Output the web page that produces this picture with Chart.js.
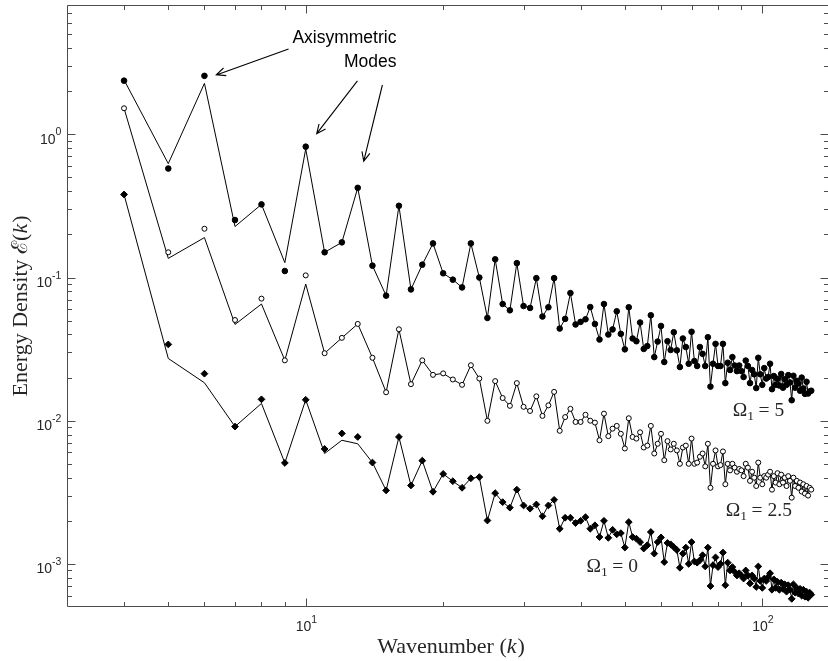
<!DOCTYPE html>
<html><head><meta charset="utf-8">
<script src="https://cdn.jsdelivr.net/npm/chart.js@4.4.0/dist/chart.umd.min.js"></script>
<style>html,body{margin:0;padding:0;background:#fff;overflow:hidden}#wrap{width:828px;height:661px;overflow:hidden;position:relative;background:#fff}canvas{display:block}</style>
</head><body><div id="wrap"><canvas id="c" width="834" height="661"></canvas></div>
<script>
// ---------------- data ----------------
const wavenumbers = [4,5,6,7,8,9,10,11,12,13,14,15,16,17,18,19,20,21,22,23,24,25,26,27,28,29,30,31,32,33,34,35,36,37,38,39,40,41,42,43,44,45,46,47,48,49,50,51,52,53,54,55,56,57,58,59,60,61,62,63,64,65,66,67,68,69,70,71,72,73,74,75,76,77,78,79,80,81,82,83,84,85,86,87,88,89,90,91,92,93,94,95,96,97,98,99,100,101,102,103,104,105,106,107,108,109,110,111,112,113,114,115,116,117,118,119,120,121,122,123,124,125,126,127,128];

// Omega_1 = 5 (line values, k = 4..128)
const omega5Line = [2.4,0.624,2.27,0.227,0.324,0.127,0.79,0.150,0.176,0.423,0.121,0.0747,0.317,0.0826,0.123,0.173,0.107,0.0966,0.0853,0.173,0.100,0.0522,0.134,0.0653,0.059,0.126,0.0632,0.0613,0.099,0.0534,0.062,0.099,0.044,0.0514,0.0779,0.047,0.049,0.0511,0.0622,0.0474,0.0369,0.0653,0.040,0.0434,0.0581,0.0404,0.0315,0.062,0.0375,0.0359,0.0485,0.0317,0.0332,0.0545,0.0278,0.0357,0.0459,0.0257,0.0359,0.0312,0.0415,0.0310,0.0237,0.0375,0.0327,0.025,0.0418,0.0261,0.0241,0.0327,0.0293,0.0241,0.0383,0.0173,0.025,0.0344,0.0241,0.0241,0.0344,0.0183,0.0254,0.0226,0.0278,0.0243,0.0222,0.0243,0.0222,0.0202,0.0263,0.0241,0.0183,0.0226,0.0211,0.0169,0.0275,0.0211,0.0178,0.0233,0.0197,0.0202,0.025,0.0166,0.0205,0.0178,0.0196,0.0176,0.0212,0.0170,0.0195,0.0178,0.0208,0.0185,0.0139,0.0206,0.0170,0.0190,0.0182,0.0162,0.0200,0.0168,0.0154,0.0187,0.0155,0.0160,0.0162];
// marker values that sit off the line at low k (k = 4..16)
const omega5MarkerLowK = [2.37,0.577,2.56,0.252,0.324,0.111,0.82,0.150,0.176,0.423,0.121,0.0747,0.317];

// Omega_1 = 2.5
const omega25Line = [1.52,0.136,0.190,0.047,0.0653,0.0264,0.090,0.0296,0.0379,0.0474,0.0275,0.0158,0.0435,0.018,0.0264,0.0209,0.0214,0.0194,0.0178,0.0244,0.0197,0.00998,0.0189,0.0144,0.0127,0.0183,0.0125,0.0117,0.0148,0.0108,0.0128,0.0159,0.0085,0.0106,0.0121,0.0098,0.0098,0.011,0.010,0.0097,0.0073,0.0112,0.0078,0.0088,0.0092,0.0081,0.0064,0.0104,0.0077,0.0075,0.0083,0.0065,0.0067,0.0092,0.0059,0.0069,0.0081,0.0053,0.0072,0.0063,0.0069,0.0062,0.0050,0.0065,0.0067,0.0050,0.0075,0.0050,0.0051,0.0056,0.0059,0.0048,0.0069,0.0034,0.0050,0.0062,0.0048,0.0049,0.0061,0.0036,0.0050,0.0045,0.0050,0.0047,0.0044,0.0046,0.0045,0.0041,0.0050,0.0047,0.0038,0.0044,0.0040,0.0035,0.0051,0.0040,0.0036,0.0041,0.0040,0.0042,0.0044,0.0033,0.0041,0.0037,0.0043,0.0036,0.0042,0.0037,0.0040,0.0035,0.0041,0.0038,0.0029,0.0040,0.0035,0.0038,0.0034,0.0037,0.0032,0.0036,0.0031,0.0035,0.0030,0.0034,0.0033];
const omega25MarkerLowK = [1.52,0.150,0.219,0.0505,0.0712,0.0264,0.1035,0.0296,0.0379,0.0474,0.0275,0.0158,0.0435];

// Omega_1 = 0
const omega0Line = [0.380,0.0272,0.0184,0.0091,0.0132,0.00507,0.0140,0.0059,0.0073,0.0069,0.0051,0.00326,0.0077,0.00353,0.00526,0.00319,0.00425,0.00378,0.0034,0.00396,0.00404,0.00201,0.00312,0.0027,0.00247,0.0033,0.00256,0.00243,0.0026,0.00215,0.00256,0.0028,0.00176,0.0021,0.0021,0.00193,0.0020,0.00212,0.00176,0.00186,0.00154,0.0020,0.00152,0.00173,0.00161,0.00164,0.0013,0.00196,0.00154,0.0015,0.00142,0.00128,0.00135,0.00167,0.00118,0.00142,0.00153,0.00103,0.0014,0.00137,0.00131,0.00125,0.00094,0.00118,0.0013,0.0010,0.00142,0.00104,0.00102,0.00106,0.00115,0.00096,0.0013,0.0007,0.00098,0.00111,0.00095,0.0010,0.0012,0.00071,0.00102,0.0009,0.00095,0.00088,0.00083,0.00086,0.00083,0.00079,0.0009,0.00083,0.00073,0.00083,0.00079,0.00069,0.00096,0.00076,0.00068,0.00079,0.00076,0.00081,0.00086,0.00066,0.00078,0.00068,0.00075,0.00066,0.00074,0.00067,0.00072,0.00064,0.00071,0.00066,0.00057,0.00072,0.00063,0.00068,0.00062,0.00067,0.00060,0.00066,0.00059,0.00064,0.00058,0.00063,0.00061];
const omega0MarkerLowK = [0.380,0.0341,0.0213,0.0091,0.0141,0.00507,0.0140,0.00635,0.00815,0.0077,0.0051,0.00326,0.0077];

// axis ticks
const xMajorTicks = [10, 100];
const xMinorTicks = [4,5,6,7,8,9,20,30,40,50,60,70,80,90];
const xTickExponents = ['1','2'];
const yMajorTicks = [1e-3, 1e-2, 1e-1, 1];
const yMinorTicks = [6e-4,7e-4,8e-4,9e-4,2e-3,3e-3,4e-3,5e-3,6e-3,7e-3,8e-3,9e-3,2e-2,3e-2,4e-2,5e-2,6e-2,7e-2,8e-2,9e-2,0.2,0.3,0.4,0.5,0.6,0.7,0.8,0.9,2,3,4,5,6,7,8];
const yTickExponents = ['-3','-2','-1','0'];

// annotations (data coordinates)
const seriesLabels = [
  {value:'5',   k:86.2, e:0.0108},
  {value:'2.5', k:83.2, e:0.00215},
  {value:'0',   k:41.2, e:0.00088}
];
const noteLines = [
  {text:'Axisymmetric', kRight:15.8, e:4.34},
  {text:'Modes',        kRight:15.8, e:2.97}
];
const arrows = [
  {k0:9.17,  e0:3.94, k1:6.37,  e1:2.60},
  {k0:12.98, e0:2.36, k1:10.57, e1:1.01},
  {k0:14.72, e0:2.21, k1:13.40, e1:0.649}
];

// ---------------- chart ----------------
const SANS = '"Liberation Sans", Arial, Helvetica, sans-serif';
const SERIF = '"Liberation Serif", "DejaVu Serif", serif';
const AXIS_COLOR = '#4d4d4d';
const TEXT_COLOR = '#262626';

function toPoints(values){ return values.map((v,i)=>({x: wavenumbers[i], y: v})); }
function withLowK(low, line){ return low.concat(line.slice(low.length)); }

function drawRich(ctx, segs, x, y, align){
  let total = 0;
  segs.forEach(s=>{ ctx.font = s.font; s.w = ctx.measureText(s.text).width + (s.pad||0); total += s.w; });
  let cx = align==='center' ? x - total/2 : (align==='right' ? x - total : x);
  ctx.textAlign = 'left';
  segs.forEach(s=>{ ctx.font = s.font; ctx.fillText(s.text, cx, y + (s.dy||0)); cx += s.w; });
}

const decor = {
  id:'decor',
  afterDatasetsDraw(chart){
    const ctx = chart.ctx, xs = chart.scales.x, ys = chart.scales.y;
    const {left,right,top,bottom} = chart.chartArea;
    ctx.save();
    // frame
    ctx.strokeStyle = AXIS_COLOR; ctx.lineWidth = 1;
    const L = Math.round(left)+0.5, R = Math.round(right)-0.5, T = Math.round(top)+0.5, B = Math.round(bottom)-0.5;
    ctx.beginPath();
    ctx.moveTo(L,T); ctx.lineTo(R,T); ctx.lineTo(R,B); ctx.lineTo(L,B); ctx.closePath();
    ctx.stroke();
    // ticks
    ctx.beginPath();
    const xt = (v,len)=>{ const p = Math.round(xs.getPixelForValue(v))+0.5; ctx.moveTo(p,B); ctx.lineTo(p,B-len); ctx.moveTo(p,T); ctx.lineTo(p,T+len); };
    const yt = (v,len)=>{ const p = Math.round(ys.getPixelForValue(v))+0.5; ctx.moveTo(L,p); ctx.lineTo(L+len,p); ctx.moveTo(R,p); ctx.lineTo(R-len,p); };
    xMajorTicks.forEach(v=>xt(v,8)); xMinorTicks.forEach(v=>xt(v,4.5));
    yMajorTicks.forEach(v=>yt(v,8)); yMinorTicks.forEach(v=>yt(v,4.5));
    ctx.stroke();
    // tick labels
    ctx.fillStyle = TEXT_COLOR; ctx.textBaseline = 'alphabetic';
    const baseFont = '14px ' + SANS, expFont = '10.5px ' + SANS;
    yMajorTicks.forEach((v,i)=>{
      const p = ys.getPixelForValue(v);
      drawRich(ctx, [{text:'10', font:baseFont, dy:9.4}, {text:yTickExponents[i], font:expFont, dy:1}], left-5.6, p, 'right');
    });
    xMajorTicks.forEach((v,i)=>{
      const p = xs.getPixelForValue(v);
      drawRich(ctx, [{text:'10', font:baseFont, dy:0}, {text:xTickExponents[i], font:expFont, dy:-8}], p+0.7, bottom+24, 'center');
    });
    // axis titles
    const tFont = '22px ' + SERIF, tItal = 'italic 22px ' + SERIF;
    drawRich(ctx, [{text:'Wavenumber (', font:tFont},{text:'k', font:tItal, pad:1},{text:')', font:tFont}], (left+right)/2 + 3, bottom+46, 'center');
    ctx.save();
    ctx.translate(27, (top+bottom)/2);
    ctx.rotate(-Math.PI/2);
    drawRich(ctx, [{text:'Energy Density ', font:tFont},{text:'\u2130', font:tFont},{text:'(', font:tFont},{text:'k', font:tItal, pad:1},{text:')', font:tFont}], 0, 0, 'center');
    ctx.restore();
    // series labels
    const oFont = '19.5px ' + SERIF, sFont = '13.5px ' + SERIF;
    seriesLabels.forEach(s=>{
      drawRich(ctx, [{text:'\u03A9', font:oFont},{text:'1', font:sFont, dy:4, pad:4.5},{text:'=', font:oFont, pad:5},{text:s.value, font:oFont}],
        xs.getPixelForValue(s.k), ys.getPixelForValue(s.e), 'left');
    });
    // notes
    ctx.font = '17.5px ' + SANS; ctx.textAlign = 'right'; ctx.fillStyle = '#000';
    noteLines.forEach(n=>{ ctx.fillText(n.text, xs.getPixelForValue(n.kRight), ys.getPixelForValue(n.e)); });
    // arrows
    ctx.strokeStyle = '#000'; ctx.lineWidth = 1.1;
    arrows.forEach(a=>{
      const x0 = xs.getPixelForValue(a.k0), y0 = ys.getPixelForValue(a.e0);
      const x1 = xs.getPixelForValue(a.k1), y1 = ys.getPixelForValue(a.e1);
      const ang = Math.atan2(y1-y0, x1-x0), hl = 10, th = 0.42;
      ctx.beginPath();
      ctx.moveTo(x0,y0); ctx.lineTo(x1,y1);
      ctx.moveTo(x1 - hl*Math.cos(ang-th), y1 - hl*Math.sin(ang-th));
      ctx.lineTo(x1,y1);
      ctx.lineTo(x1 - hl*Math.cos(ang+th), y1 - hl*Math.sin(ang+th));
      ctx.stroke();
    });
    ctx.restore();
  }
};

const lineDs = (vals)=>({data:toPoints(vals), showLine:true, borderColor:'#000', borderWidth:1, pointRadius:0, tension:0, order:2, fill:false});
const markDs = (vals, style, r, fill)=>({data:toPoints(vals), showLine:false, pointStyle:style, pointRadius:r, pointBorderWidth:1, pointBackgroundColor:fill, pointBorderColor:'#000', borderColor:'#000', backgroundColor:fill, order:1});

new Chart(document.getElementById('c'), {
  type:'line',
  data:{ datasets:[
    lineDs(omega5Line), lineDs(omega25Line), lineDs(omega0Line),
    markDs(withLowK(omega5MarkerLowK, omega5Line), 'circle', 2.8, '#000'),
    markDs(withLowK(omega25MarkerLowK, omega25Line), 'circle', 2.5, '#fff'),
    markDs(withLowK(omega0MarkerLowK, omega0Line), 'rectRot', 3.4, '#000')
  ]},
  options:{
    responsive:false, animation:false, devicePixelRatio:1,
    layout:{padding:{left:0, right:1, top:3, bottom:0}},
    plugins:{legend:{display:false}, tooltip:{enabled:false}},
    scales:{
      x:{type:'logarithmic', min:3, max:140, ticks:{display:false}, grid:{display:false}, border:{display:false},
         afterFit(s){ s.height = 54; }},
      y:{type:'logarithmic', min:5e-4, max:8, ticks:{display:false}, grid:{display:false}, border:{display:false},
         afterFit(s){ s.width = 67; }}
    }
  },
  plugins:[decor]
});
</script>
</body></html>
